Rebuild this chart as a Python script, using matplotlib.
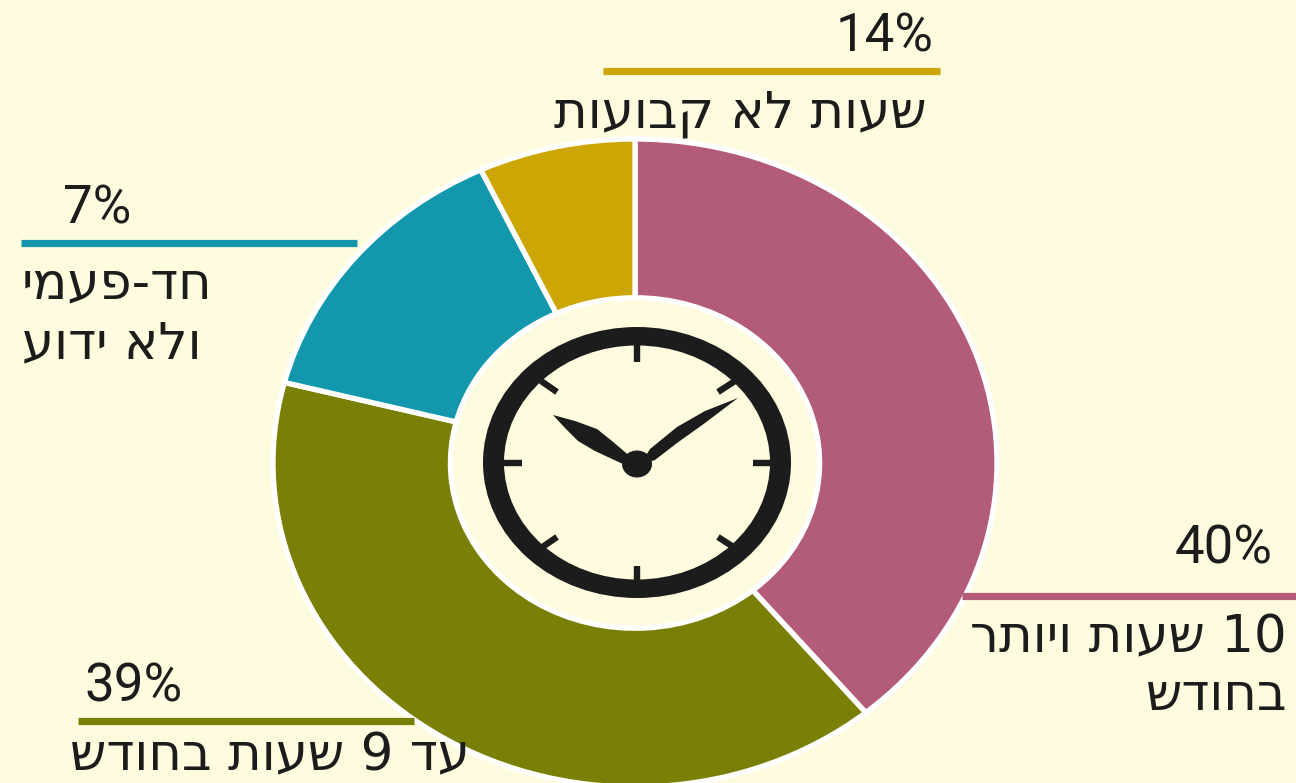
import re
import matplotlib
matplotlib.use("Agg")
import matplotlib.pyplot as plt
from matplotlib.patches import Ellipse, Polygon

# =========================
# DATA
# =========================

# slice sizes as drawn in the source, the printed labels differ slightly
shares = [39, 40, 14, 7]
slice_colors = ["#B35C7A", "#7A8005", "#1297AD", "#CBA605"]

pct_labels = ["40%", "39%", "7%", "14%"]
cat_labels = ["10 שעות ויותר\nבחודש", "עד 9 שעות בחודש", "חד-פעמי\nולא ידוע", "שעות לא קבועות"]

BG = "#FFFBDF"
INK = "#1C1C1C"
W, H = 1296, 783


def visual(s):
    # matplotlib has no bidi, so Hebrew goes in visual order
    return re.sub(r"\d+", lambda m: m.group(0)[::-1], s[::-1])


plt.rcParams["font.family"] = ["Roboto", "DejaVu Sans"]

fig = plt.figure(figsize=(W / 100, H / 100), dpi=100, facecolor=BG)

# =========================
# DONUT (stretched like the source image)
# =========================

cx, cy, rx, ry = 635, 463, 362, 324
ax = fig.add_axes([(cx - rx) / W, 1 - (cy + ry) / H, 2 * rx / W, 2 * ry / H])
ax.pie(
    shares,
    colors=slice_colors,
    startangle=90,
    counterclock=False,
    radius=1,
    wedgeprops={"width": 0.49, "edgecolor": "white", "linewidth": 3.8},
)
ax.set_aspect("auto")
ax.set_xlim(-1, 1)
ax.set_ylim(-1, 1)
ax.axis("off")
for p in ax.patches:
    p.set_clip_on(False)

# =========================
# OVERLAY IN PIXELS
# =========================

ov = fig.add_axes([0, 0, 1, 1], facecolor="none")
ov.set_xlim(0, W)
ov.set_ylim(H, 0)
ov.axis("off")

# clock
ox, oy = 637, 462.5
ov.add_patch(Ellipse((ox, oy), 308, 271, fc=INK, ec="none"))
ov.add_patch(Ellipse((ox, oy), 266, 234, fc=BG, ec="none"))
ticks = [
    ((637, 343), (637, 362)), ((637, 566), (637, 585)),
    ((503, 463), (522, 463)), ((753, 463), (774, 463)),
    ((541, 381), (557, 392)), ((718, 392), (735, 381)),
    ((541, 548), (557, 537)), ((718, 537), (735, 548)),
]
for a, b in ticks:
    ov.plot([a[0], b[0]], [a[1], b[1]], color=INK, lw=4.6, solid_capstyle="butt")
hour_hand = [(553, 415), (575, 421), (597, 429), (612, 441), (632, 458), (625, 465),
             (610, 458), (595, 451), (578, 441), (565, 428)]
minute_hand = [(738, 398), (705, 411), (677, 427), (650, 449), (640, 465), (655, 460),
               (677, 443), (705, 423)]
ov.add_patch(Polygon(hour_hand, fc=INK, ec="none"))
ov.add_patch(Polygon(minute_hand, fc=INK, ec="none"))
ov.add_patch(Ellipse((ox, 464), 30, 27, fc=INK, ec="none"))

# leader lines
leaders = [(962, 1296, 596), (78, 414, 721), (21, 357, 243), (603, 940, 71)]
for (x0, x1, y), col in zip(leaders, slice_colors):
    ov.plot([x0, x1], [y, y], color=col, lw=5.2, solid_capstyle="butt")

# labels
pct_pos = [(1273, 563), (183, 702), (131, 223), (933, 52)]
for (x, y), t in zip(pct_pos, pct_labels):
    ov.text(x, y, t, ha="right", va="baseline", fontsize=38, color=INK)

cat_pos = [
    [(1287, 652, "right"), (1287, 710, "right")],
    [(470, 770, "right")],
    [(22, 298, "left"), (22, 358, "left")],
    [(927, 127, "right")],
]
for rows, t in zip(cat_pos, cat_labels):
    for (x, y, ha), line in zip(rows, t.split("\n")):
        ov.text(x, y, visual(line), ha=ha, va="baseline", fontsize=37,
                family="DejaVu Sans", color=INK)

fig.savefig("out.png", dpi=100, facecolor=BG)
